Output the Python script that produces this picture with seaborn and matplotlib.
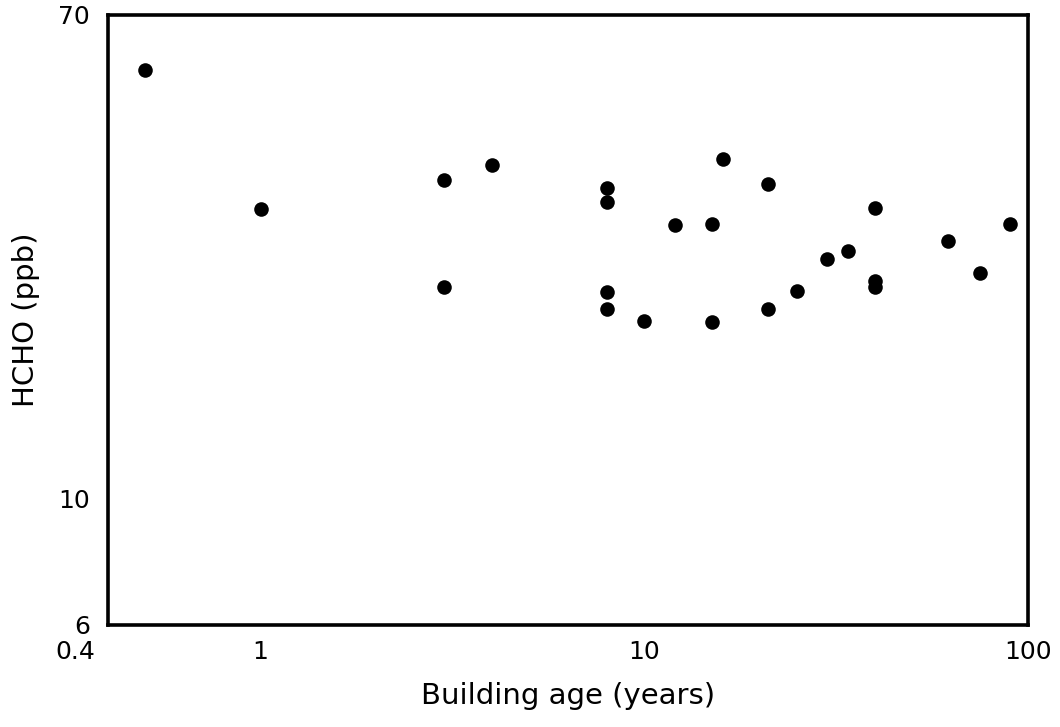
import matplotlib
matplotlib.use("Agg")
import matplotlib.pyplot as plt
import matplotlib.transforms as mtransforms
import seaborn as sns
import pandas as pd

# Building age (years) and measured formaldehyde concentration (ppb)
building_age = [0.5, 1, 3, 4, 3, 8, 8, 8, 8, 10, 12, 15, 16, 15, 21, 21, 25,
                30, 34, 40, 40, 40, 62, 75, 90]
hcho_ppb = [56.0, 32.0, 36.0, 38.2, 23.4, 34.9, 33.0, 22.9, 21.4, 20.4, 30.0,
            30.2, 39.2, 20.3, 35.4, 21.4, 23.0, 26.2, 27.1, 32.2, 24.0, 23.4,
            28.2, 24.8, 30.2]

x_ticks = [0.4, 1, 10, 100]
x_tick_labels = ["0.4", "1", "10", "100"]
y_ticks = [6, 10, 70]
y_tick_labels = ["6", "10", "70"]

df = pd.DataFrame({"age": building_age, "hcho": hcho_ppb})

sns.set_style("white")
plt.rcParams["font.family"] = ["DejaVu Sans"]

fig = plt.figure(figsize=(10.6, 7.27), dpi=100)
ax = fig.add_axes([108 / 1060, 102 / 727, 920 / 1060, 610 / 727])

sns.scatterplot(data=df, x="age", y="hcho", ax=ax, color="black",
                s=110, edgecolor="black", linewidth=0, legend=False)

ax.set_xscale("log")
ax.set_yscale("log")
ax.set_xlim(0.4, 100)
ax.set_ylim(6, 70)

ax.set_xticks(x_ticks)
ax.set_xticklabels(x_tick_labels)
ax.set_yticks(y_ticks)
ax.set_yticklabels(y_tick_labels)
ax.minorticks_off()
ax.tick_params(axis="both", length=0, labelsize=18, colors="black")
ax.tick_params(axis="x", pad=11)
ax.tick_params(axis="y", pad=13)

# nudge the leftmost x label clear of the corner
first = ax.get_xticklabels()[0]
first.set_transform(first.get_transform() +
                    mtransforms.ScaledTranslation(-33 / 100, 0, fig.dpi_scale_trans))

for side in ax.spines.values():
    side.set_linewidth(2.6)
    side.set_color("black")

ax.set_xlabel("Building age (years)", fontsize=21, labelpad=13, color="black")
ax.set_ylabel("HCHO (ppb)", fontsize=21, labelpad=13, color="black")

fig.savefig("out.png", dpi=100, facecolor="white")
